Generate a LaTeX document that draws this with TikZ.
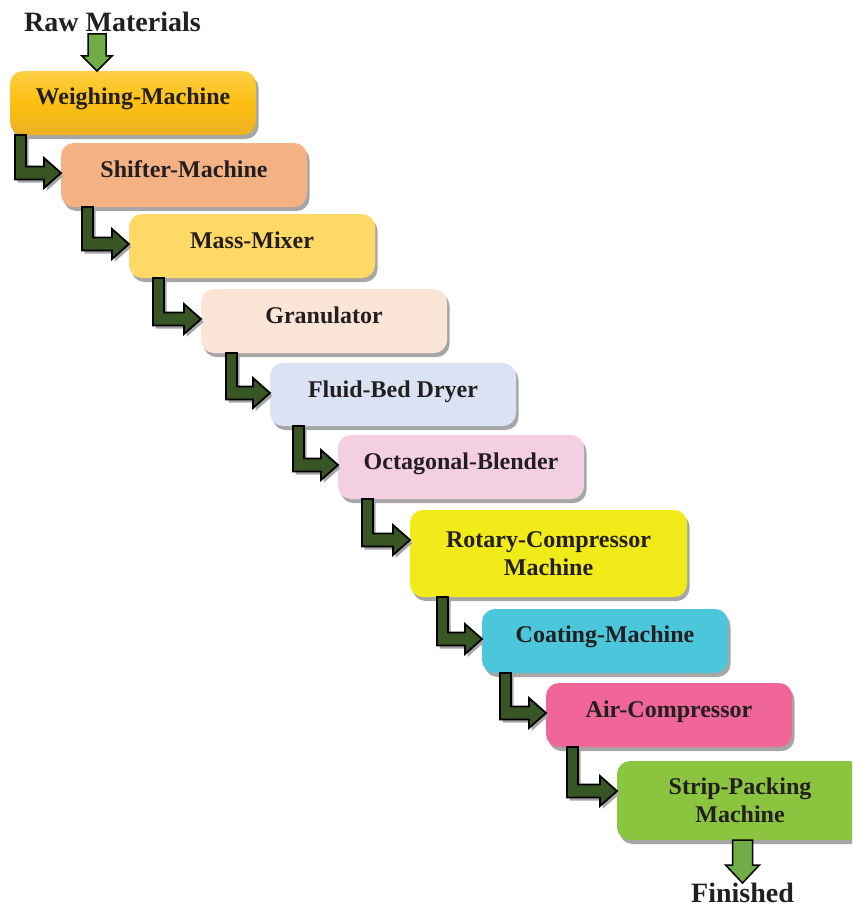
\documentclass[tikz,border=0pt]{standalone}
\usepackage{fontspec}
\setmainfont{Liberation Serif}
\usetikzlibrary{calc,shadows}
\definecolor{txtc}{HTML}{231F20}
\definecolor{arrdk}{HTML}{375623}
\definecolor{arrlt}{HTML}{70AD47}
\definecolor{cA1}{HTML}{FDCE45}
\definecolor{cA2}{HTML}{FDC010}
\definecolor{cA3}{HTML}{EAB024}
\definecolor{cB}{HTML}{F4B183}
\definecolor{cC}{HTML}{FFD966}
\definecolor{cD}{HTML}{FBE5D6}
\definecolor{cE}{HTML}{DAE3F3}
\definecolor{cF}{HTML}{F4CFE2}
\definecolor{cG}{HTML}{F2EB1A}
\definecolor{cH}{HTML}{4BC6DB}
\definecolor{cI}{HTML}{F06699}
\definecolor{cJ}{HTML}{8BC43F}
\tikzset{
  box/.style={rounded corners=13pt, minimum width=246pt, minimum height=64pt,
    inner sep=0pt, outer sep=0pt, anchor=north west,
    drop shadow={shadow xshift=2.5pt, shadow yshift=-4pt, fill=black!35, opacity=1}},
  lbl/.style={font=\fontsize{24}{28}\selectfont\bfseries, text=txtc, align=center, inner sep=0pt, anchor=base},
  big/.style={font=\fontsize{28}{32}\selectfont\bfseries, text=txtc, inner sep=0pt, anchor=base},
  elbowarrow/.style={fill=arrdk, draw=black, line width=1.8pt, line join=miter,
    drop shadow={shadow xshift=2.5pt, shadow yshift=-3pt, fill=black!35, opacity=1}},
  downarrow/.style={fill=arrlt, draw=black, line width=1.5pt, line join=miter}
}
\newcommand\elbow[3]{%
  \path ($(#1.south west)+(#3,0)$) coordinate (s1)
        ($(#2.north west)+(0,30)$) coordinate (tt);
  \draw[elbowarrow] (s1) -- ++(11,0) -- ($(s1 |- tt)+(11,-6.5)$) -- ($(tt)+(-17,-6.5)$)
     -- ($(tt)+(-17,-15)$) -- (tt) -- ($(tt)+(-17,15)$) -- ($(tt)+(-17,6.5)$)
     -- ($(s1 |- tt)+(0,6.5)$) -- cycle;
}
\begin{document}
\begin{tikzpicture}[x=1pt,y=-1pt]
\useasboundingbox (0,0) rectangle (852,907);
\clip (0,0) rectangle (852,907);
% boxes
\node[box, top color=cA1, bottom color=cA3, middle color=cA2] (w) at (10,71) {};
\node[box, fill=cB] (sh) at (61,143) {};
\node[box, fill=cC] (mm) at (129,214) {};
\node[box, fill=cD] (gr) at (201,289) {};
\node[box, fill=cE, minimum height=63pt] (fb) at (270,363) {};
\node[box, fill=cF] (ob) at (338,435) {};
\node[box, fill=cG, minimum width=277pt, minimum height=87pt] (rc) at (410,510) {};
\node[box, fill=cH] (co) at (482,609) {};
\node[box, fill=cI] (ac) at (546,683) {};
\node[box, fill=cJ, minimum height=79pt] (sp) at (617,761) {};
% labels
\node[lbl] (wt) at ($(w.north)+(0,33)$) {Weighing-Machine};
\node[lbl] (sht) at ($(sh.north)+(0,34)$) {Shifter-Machine};
\node[lbl] (mmt) at ($(mm.north)+(0,34)$) {Mass-Mixer};
\node[lbl] (grt) at ($(gr.north)+(0,34)$) {Granulator};
\node[lbl] (fbt) at ($(fb.north)+(0,34)$) {Fluid-Bed Dryer};
\node[lbl] (obt) at ($(ob.north)+(0,34)$) {Octagonal-Blender};
\node[lbl] (rct) at ($(rc.north)+(0,65)$) {Rotary-Compressor\\Machine};
\node[lbl] (cot) at ($(co.north)+(0,33)$) {Coating-Machine};
\node[lbl] (act) at ($(ac.north)+(0,34)$) {Air-Compressor};
\node[lbl] (spt) at ($(sp.north)+(0,61)$) {Strip-Packing\\Machine};
% raw / finished
\node[big] (raw) at (112.5,32) {Raw Materials};
\node[big] (fin) at (742.5,902) {Finished};
\coordinate (rtip) at ($(w.north west)+(87,0)$);
\draw[downarrow] (rtip) -- ++(-15,-15) -- ++(6,0) -- ++(0,-22) -- ++(18,0) -- ++(0,22) -- ++(6,0) -- cycle;
\coordinate (ftip) at ($(sp.south west)+(125.5,43)$);
\draw[downarrow] (ftip) -- ++(-17,-18) -- ++(7,0) -- ++(0,-25) -- ++(20,0) -- ++(0,25) -- ++(7,0) -- cycle;
% elbow arrows
\elbow{w}{sh}{5}
\elbow{sh}{mm}{21}
\elbow{mm}{gr}{24}
\elbow{gr}{fb}{25}
\elbow{fb}{ob}{23}
\elbow{ob}{rc}{24}
\elbow{rc}{co}{27}
\elbow{co}{ac}{18}
\elbow{ac}{sp}{21}
\end{tikzpicture}
\end{document}
